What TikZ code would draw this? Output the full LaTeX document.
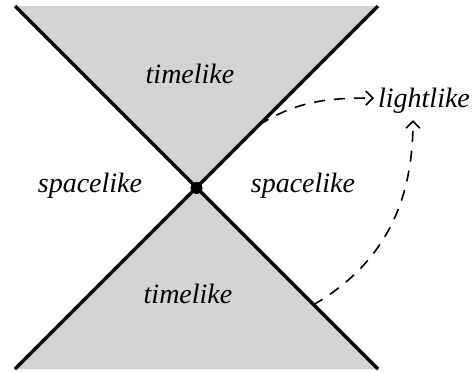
\documentclass[tikz,border=0pt]{standalone}
\usepackage{fontspec}
\setmainfont{Liberation Serif}
\usetikzlibrary{arrows.meta}
\definecolor{conegray}{RGB}{211,211,211}
\begin{document}
\begin{tikzpicture}[x=0.5pt,y=-0.5pt,
  lbl/.style={font=\fontsize{14}{16}\selectfont\itshape, anchor=base, inner sep=0pt},
  cone/.style={line width=1.6pt, black},
  link/.style={dash pattern=on 5.5pt off 4.5pt, line width=0.8pt, -{Straight Barb[length=3.5pt,width=7pt,line width=0.8pt]}}]
\useasboundingbox (0,0) rectangle (472,371);
\coordinate (o) at (196.5,188);
\coordinate (tl) at (15,6);
\coordinate (tr) at (378,6);
\coordinate (bl) at (15,369);
\coordinate (br) at (378,369);
\fill[conegray] (tl) -- (tr) -- (o) -- cycle;
\fill[conegray] (bl) -- (br) -- (o) -- cycle;
\draw[cone] (tl) -- (br);
\draw[cone] (tr) -- (bl);
\fill (o) circle (6);
\node[lbl] (t1) at (190,83) {timelike};
\node[lbl] (t2) at (188,303) {timelike};
\node[lbl] (s1) at (90,192) {spacelike};
\node[lbl] (s2) at (303,192) {spacelike};
\node[lbl] (ll) at (424,107) {lightlike};
\coordinate (a1) at (259,125);
\coordinate (a2) at (313,305);
\coordinate (e1) at (374,98);
\coordinate (e2) at (413,120);
\draw[link] (a1) to[out=32,in=180] (e1);
\draw[link] (a2) to[out=30,in=-90] (e2);
\end{tikzpicture}
\end{document}
